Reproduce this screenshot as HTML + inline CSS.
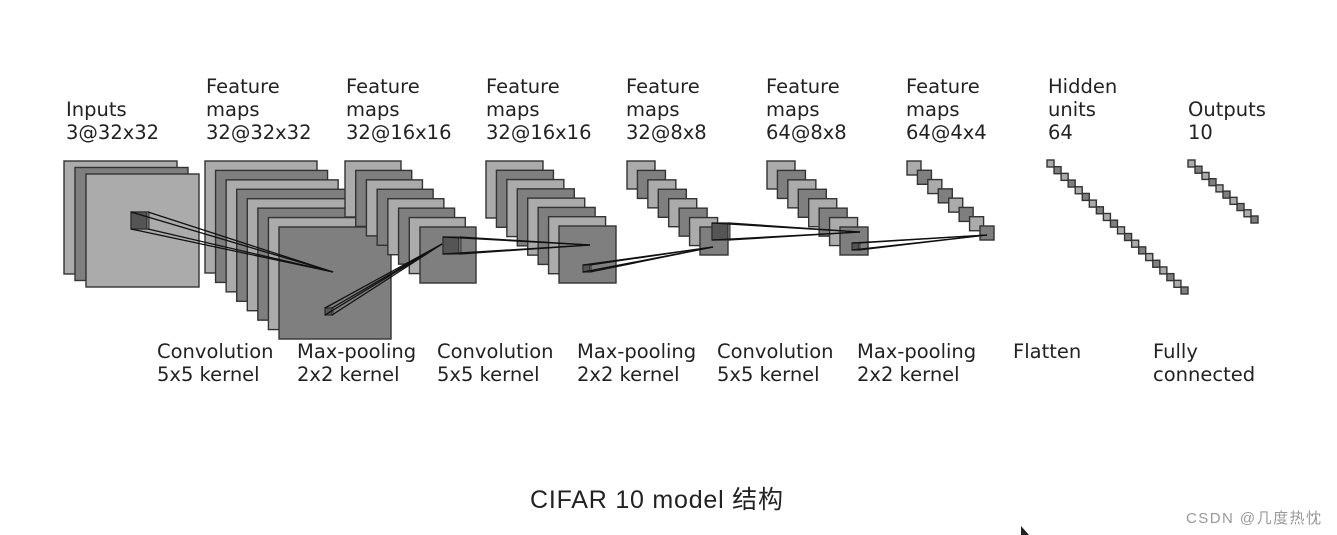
<!DOCTYPE html>
<html><head><meta charset="utf-8"><style>
html,body{margin:0;padding:0;background:#fff;}
svg{display:block;}
text{font-family:"DejaVu Sans","Liberation Sans",sans-serif;font-size:19.5px;fill:#222;}
</style></head><body>
<svg id="s" width="1337" height="535" viewBox="0 0 1337 535" xmlns="http://www.w3.org/2000/svg">
<g id="lab">
<text x="66" y="116">Inputs</text><text x="66" y="139">3@32x32</text>
<text x="206" y="93">Feature</text><text x="206" y="116">maps</text><text x="206" y="139">32@32x32</text>
<text x="346" y="93">Feature</text><text x="346" y="116">maps</text><text x="346" y="139">32@16x16</text>
<text x="486" y="93">Feature</text><text x="486" y="116">maps</text><text x="486" y="139">32@16x16</text>
<text x="626" y="93">Feature</text><text x="626" y="116">maps</text><text x="626" y="139">32@8x8</text>
<text x="766" y="93">Feature</text><text x="766" y="116">maps</text><text x="766" y="139">64@8x8</text>
<text x="906" y="93">Feature</text><text x="906" y="116">maps</text><text x="906" y="139">64@4x4</text>
<text x="1048" y="93">Hidden</text><text x="1048" y="116">units</text><text x="1048" y="139">64</text>
<text x="1188" y="116">Outputs</text><text x="1188" y="139">10</text>
<text x="157" y="358">Convolution</text><text x="157" y="381">5x5 kernel</text>
<text x="297" y="358">Max-pooling</text><text x="297" y="381">2x2 kernel</text>
<text x="437" y="358">Convolution</text><text x="437" y="381">5x5 kernel</text>
<text x="577" y="358">Max-pooling</text><text x="577" y="381">2x2 kernel</text>
<text x="717" y="358">Convolution</text><text x="717" y="381">5x5 kernel</text>
<text x="857" y="358">Max-pooling</text><text x="857" y="381">2x2 kernel</text>
<text x="1013" y="358">Flatten</text>
<text x="1153" y="358">Fully</text><text x="1153" y="381">connected</text>
</g>
<g id="sh" stroke="#333" stroke-width="1.4"></g>
<g id="ln" stroke="#111" stroke-width="1.3" fill="none"></g>
<text x="530" y="508" textLength="253" style="font-family:'Liberation Sans','Noto Sans CJK SC',sans-serif;font-size:25px;fill:#222">CIFAR 10 model 结构</text>
<text x="1186" y="523" textLength="135" style="font-family:'Liberation Sans','Noto Sans CJK SC',sans-serif;font-size:15px;fill:#999">CSDN @几度热忱</text>
<path d="M1021 526 L1021 535 L1029 535 Z" fill="#222"/>
</svg>
<script>
var NS="http://www.w3.org/2000/svg",sh=document.getElementById('sh'),ln=document.getElementById('ln');
function R(x,y,w,h,f,st){var r=document.createElementNS(NS,'rect');r.setAttribute('x',x);r.setAttribute('y',y);r.setAttribute('width',w);r.setAttribute('height',h);r.setAttribute('fill',f);if(st)r.setAttribute('stroke-width',st);sh.appendChild(r);}
function L(x1,y1,x2,y2){var l=document.createElementNS(NS,'line');l.setAttribute('x1',x1);l.setAttribute('y1',y1);l.setAttribute('x2',x2);l.setAttribute('y2',y2);ln.appendChild(l);}
var LI="#ababab",DK="#7f7f7f";
function layer(bx,by,fx,fy,size,n,startLight){for(var i=0;i<n;i++){var t=n>1?i/(n-1):0;var c=((i%2==0)==startLight)?LI:DK;R(bx+(fx-bx)*t,by+(fy-by)*t,size,size,c);}}
layer(64,161,86,174,113,3,true);
layer(205,161,279,227,112,8,true);
layer(345,161,420,227,56,8,true);
layer(486,161,559,226,57,8,true);
layer(627,161,700,227,28,8,true);
layer(767,161,840,227,28,8,true);
layer(907,161,980,226,14,8,true);
layer(1047,160,1181,287,7,20,true);
layer(1188,160,1251,216,7,10,true);
// patches and connectors
function patch(x,y,s,tx,ty){var d=Math.max(2,s*0.25);
R(x,y,s,s,"#555");R(x+s-d*0.3,y,d*0.3+1,s,"#777",1);
L(x,y,tx,ty);L(x+s,y,tx,ty);L(x,y+s,tx,ty);L(x+s,y+s,tx,ty);}
patch(131,212,17,333,272);
patch(325,308,7,442,244);
patch(443,237,17,590,245);
patch(583,265,7,713,247);
patch(712,223,17,860,232);
patch(852,243,7,987,235);
</script>
</body></html>
